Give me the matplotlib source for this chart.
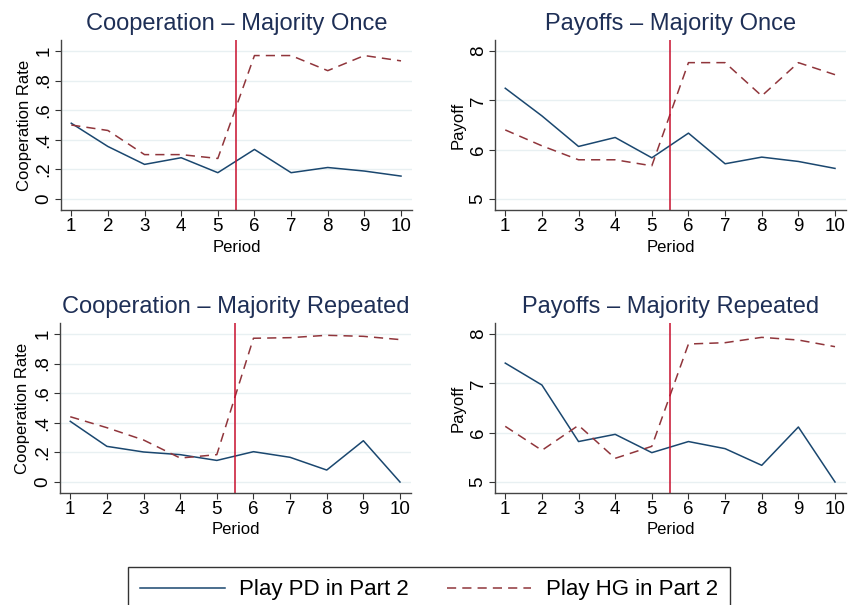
import matplotlib
matplotlib.use("Agg")
from matplotlib import pyplot as plt

plt.rcParams["font.family"] = ["Liberation Sans", "DejaVu Sans"]

periods = [1, 2, 3, 4, 5, 6, 7, 8, 9, 10]

# cooperation rate, majority once
coop_once_pd = [0.512, 0.355, 0.234, 0.279, 0.178, 0.335, 0.178, 0.213, 0.189, 0.155]
coop_once_hg = [0.50, 0.463, 0.30, 0.30, 0.274, 0.969, 0.969, 0.867, 0.969, 0.933]
# payoffs, majority once
pay_once_pd = [7.245, 6.685, 6.065, 6.247, 5.835, 6.335, 5.714, 5.849, 5.761, 5.62]
pay_once_hg = [6.40, 6.078, 5.795, 5.795, 5.673, 7.764, 7.764, 7.09, 7.764, 7.52]
# cooperation rate, majority repeated
coop_rep_pd = [0.41, 0.241, 0.203, 0.185, 0.146, 0.205, 0.167, 0.081, 0.279, 0.0]
coop_rep_hg = [0.441, 0.367, 0.284, 0.162, 0.185, 0.971, 0.975, 0.991, 0.984, 0.962]
# payoffs, majority repeated
pay_rep_pd = [7.41, 6.966, 5.82, 5.966, 5.595, 5.82, 5.676, 5.338, 6.115, 5.0]
pay_rep_hg = [6.128, 5.642, 6.149, 5.48, 5.723, 7.797, 7.824, 7.932, 7.878, 7.743]

coop_ticks = [0, 0.2, 0.4, 0.6, 0.8, 1]
coop_labels = ["0", ".2", ".4", ".6", ".8", "1"]
pay_ticks = [5, 6, 7, 8]
pay_labels = ["5", "6", "7", "8"]

navy = "#1a476f"
maroon = "#90353b"
title_col = "#1e2f56"
grid_col = "#e8f0f2"
vline_col = "#c8102e"

W, H = 849, 605
fig = plt.figure(figsize=(W / 100, H / 100), dpi=100)

panels = [
    ("Cooperation \u2013 Majority Once", coop_once_pd, coop_once_hg, "Cooperation Rate",
     coop_ticks, coop_labels, (-0.074, 1.074), (61, 40)),
    ("Payoffs \u2013 Majority Once", pay_once_pd, pay_once_hg, "Payoff",
     pay_ticks, pay_labels, (4.777, 8.223), (495, 40)),
    ("Cooperation \u2013 Majority Repeated", coop_rep_pd, coop_rep_hg, "Cooperation Rate",
     coop_ticks, coop_labels, (-0.074, 1.074), (60, 323)),
    ("Payoffs \u2013 Majority Repeated", pay_rep_pd, pay_rep_hg, "Payoff",
     pay_ticks, pay_labels, (4.777, 8.223), (495, 323)),
]

pw, ph = 351, 170
for title, pd_vals, hg_vals, ylab, yt, ytl, ylim, (px, py) in panels:
    ax = fig.add_axes([px / W, 1 - (py + ph) / H, pw / W, ph / H])
    for t in yt:
        ax.axhline(t, color=grid_col, lw=1.0, zorder=0)
    l1, = ax.plot(periods, pd_vals, color=navy, lw=1.1, label="Play PD in Part 2")
    l2, = ax.plot(periods, hg_vals, color=maroon, lw=1.1, dashes=(6, 4),
                  label="Play HG in Part 2")
    ax.axvline(5.5, color=vline_col, lw=1.1)
    ax.set_xlim(0.72, 10.3)
    ax.set_ylim(*ylim)
    ax.set_xticks(periods)
    ax.set_yticks(yt)
    ax.set_yticklabels(ytl, rotation=90, va="center")
    ax.tick_params(labelsize=13.5, length=4, width=0.8, color="#333333", pad=2)
    ax.set_xlabel("Period", fontsize=12, labelpad=3)
    ax.set_ylabel(ylab, fontsize=12, labelpad=3)
    ax.set_title(title, fontsize=17, color=title_col, pad=7)
    for s in ["top", "right"]:
        ax.spines[s].set_visible(False)
    for s in ["left", "bottom"]:
        ax.spines[s].set_color("#444444")
        ax.spines[s].set_linewidth(1.0)

leg = fig.legend([l1, l2], ["Play PD in Part 2", "Play HG in Part 2"], loc="center",
                 bbox_to_anchor=(429 / W, 1 - 590 / H), ncol=2, fontsize=16,
                 frameon=True, fancybox=False, edgecolor="black", handlelength=3.8,
                 handletextpad=0.65, columnspacing=1.7, borderpad=0.55,
                 borderaxespad=0)
leg.get_frame().set_linewidth(1.0)

fig.savefig("out.png", dpi=100)
